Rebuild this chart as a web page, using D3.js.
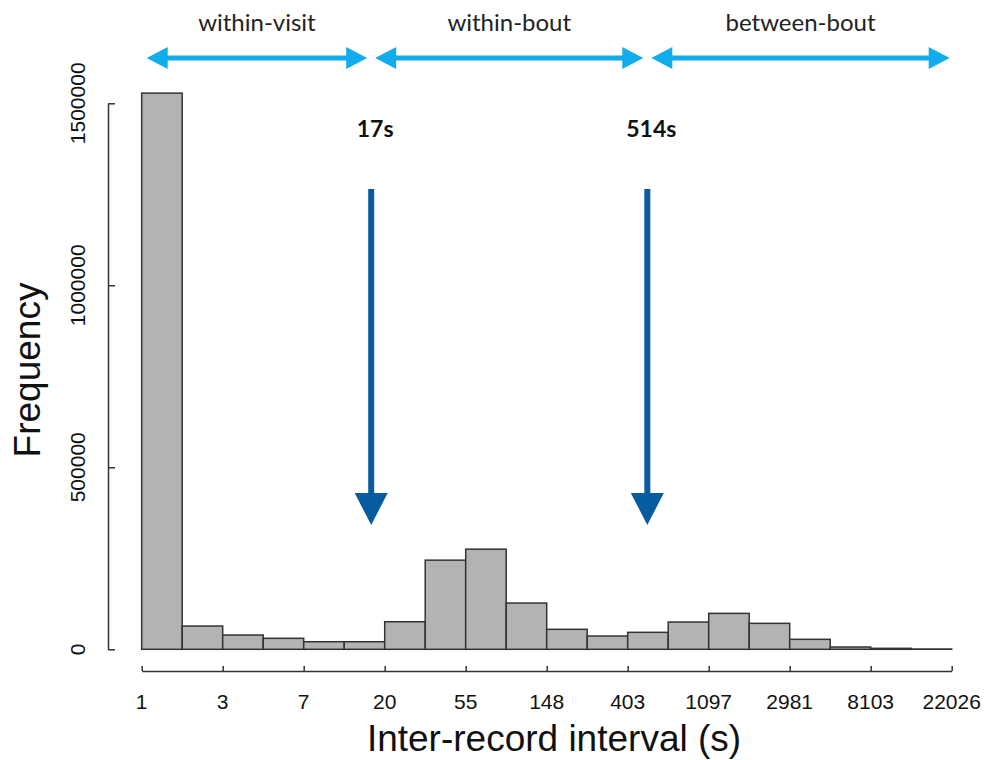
<!DOCTYPE html>
<html>
<head>
<meta charset="utf-8">
<script src="https://cdn.jsdelivr.net/npm/d3@7"></script>
<style>
  html, body { margin: 0; padding: 0; background: #fff; }
  svg { display: block; }
</style>
</head>
<body>
<svg id="chart" width="984" height="760"></svg>
<script>
// Histogram of log inter-record intervals, bins of 0.5 on the natural-log scale
const binStart = [0, 0.5, 1, 1.5, 2, 2.5, 3, 3.5, 4, 4.5, 5, 5.5, 6, 6.5, 7, 7.5, 8, 8.5, 9, 9.5];
const binWidth = 0.5;
const counts = [1528000, 63900, 39200, 30200, 20800, 20800, 75700, 244900, 275100, 127000,
                54900, 36500, 46600, 74900, 98700, 71300, 27400, 6300, 2700, 800];

// Axis ticks: positions in ln(seconds) and their labels in seconds
const xTickValues = [0, 1, 2, 3, 4, 5, 6, 7, 8, 9, 10];
const xTickLabels = ["1", "3", "7", "20", "55", "148", "403", "1097", "2981", "8103", "22026"];
const yTickValues = [0, 500000, 1000000, 1500000];

// Interval thresholds (seconds) and the behavioural ranges they separate
const thresholds = [17, 514];
const thresholdLabels = ["17s", "514s"];
const regionNames = ["within-visit", "within-bout", "between-bout"];
const regionBounds = [[1, 17], [17, 514], [514, 22026]];

const svg = d3.select("#chart");

const x = d3.scaleLinear().domain([0, 10]).range([141.7, 951.7]);
const y = d3.scaleLinear().domain([0, 1500000]).range([649.3, 103.3]);

const axisColor = "#333";
const sans = "'Liberation Sans', Arial, sans-serif";

// Bars
svg.append("g")
  .selectAll("rect")
  .data(binStart.map((b, i) => ({ b, c: counts[i] })))
  .join("rect")
  .attr("x", d => x(d.b))
  .attr("y", d => y(d.c))
  .attr("width", d => x(d.b + binWidth) - x(d.b))
  .attr("height", d => y(0) - y(d.c))
  .attr("fill", "#b3b3b3")
  .attr("stroke", "#333")
  .attr("stroke-width", 1.5);

// X axis (ticks drawn inward, R-style)
const xAxisY = 671;
const xAxis = svg.append("g")
  .attr("transform", `translate(0,${xAxisY})`)
  .call(d3.axisTop(x).tickValues(xTickValues).tickSize(5).tickSizeOuter(0).tickFormat(() => ""));
xAxis.select(".domain").attr("stroke", axisColor).attr("stroke-width", 1.5);
xAxis.selectAll(".tick line").attr("stroke", axisColor).attr("stroke-width", 1.5);

svg.append("g")
  .selectAll("text")
  .data(xTickValues)
  .join("text")
  .attr("x", d => x(d))
  .attr("y", 709)
  .attr("text-anchor", "middle")
  .attr("font-family", sans)
  .attr("font-size", 21)
  .attr("fill", "#111")
  .text((d, i) => xTickLabels[i]);

// Y axis (ticks drawn inward)
const yAxisX = 108;
const yAxis = svg.append("g")
  .attr("transform", `translate(${yAxisX},0)`)
  .call(d3.axisRight(y).tickValues(yTickValues).tickSize(7).tickSizeOuter(0).tickFormat(() => ""));
yAxis.select(".domain").attr("stroke", axisColor).attr("stroke-width", 1.5);
yAxis.selectAll(".tick line").attr("stroke", axisColor).attr("stroke-width", 1.5);

svg.append("g")
  .selectAll("text")
  .data(yTickValues)
  .join("text")
  .attr("transform", d => `translate(85,${y(d)}) rotate(-90)`)
  .attr("text-anchor", "middle")
  .attr("font-family", sans)
  .attr("font-size", 21)
  .attr("fill", "#111")
  .text(d => d3.format("d")(d));

// Axis titles
svg.append("text")
  .attr("x", 554)
  .attr("y", 751)
  .attr("text-anchor", "middle")
  .attr("font-family", sans)
  .attr("font-size", 37)
  .attr("fill", "#111")
  .text("Inter-record interval (s)");

svg.append("text")
  .attr("transform", "translate(40,370) rotate(-90)")
  .attr("text-anchor", "middle")
  .attr("font-family", sans)
  .attr("font-size", 37)
  .attr("fill", "#111")
  .text("Frequency");

// Threshold arrows pointing down at the cut-off intervals
const darkBlue = "#075c9f";
const arrowTop = 189, headTop = 493, headBottom = 525;
const thrG = svg.append("g");
thresholds.forEach((t, i) => {
  const cx = x(Math.log(t));
  thrG.append("rect")
    .attr("x", cx - 3).attr("y", arrowTop)
    .attr("width", 6).attr("height", headTop - arrowTop + 1)
    .attr("fill", darkBlue);
  thrG.append("path")
    .attr("d", `M${cx - 16.5},${headTop} L${cx + 16.5},${headTop} L${cx},${headBottom} Z`)
    .attr("fill", darkBlue);
  thrG.append("text")
    .attr("x", cx + 4)
    .attr("y", 137)
    .attr("text-anchor", "middle")
    .attr("font-family", "Lato, 'Open Sans', sans-serif")
    .attr("font-weight", "bold")
    .attr("font-size", 23)
    .attr("fill", "#111")
    .text(thresholdLabels[i]);
});

// Double-headed range arrows with their names
const lightBlue = "#10aceb";
const arrowY = 58, shaftH = 5, headLen = 21, headH = 22;
const xs = v => x(Math.log(v));
const regG = svg.append("g");
regionBounds.forEach((r, i) => {
  const x0 = xs(r[0]) + (i === 0 ? 5 : 4);
  const x1 = xs(r[1]) - (i === regionBounds.length - 1 ? 2 : 4);
  regG.append("rect")
    .attr("x", x0 + headLen - 1).attr("y", arrowY - shaftH / 2)
    .attr("width", x1 - x0 - 2 * headLen + 2).attr("height", shaftH)
    .attr("fill", lightBlue);
  regG.append("path")
    .attr("d", `M${x0},${arrowY} L${x0 + headLen},${arrowY - headH / 2} L${x0 + headLen},${arrowY + headH / 2} Z`)
    .attr("fill", lightBlue);
  regG.append("path")
    .attr("d", `M${x1},${arrowY} L${x1 - headLen},${arrowY - headH / 2} L${x1 - headLen},${arrowY + headH / 2} Z`)
    .attr("fill", lightBlue);
  regG.append("text")
    .attr("x", (x0 + x1) / 2)
    .attr("y", 31)
    .attr("text-anchor", "middle")
    .attr("font-family", "Lato, 'Open Sans', sans-serif")
    .attr("font-size", 24)
    .attr("fill", "#222")
    .text(regionNames[i]);
});
</script>
</body>
</html>
